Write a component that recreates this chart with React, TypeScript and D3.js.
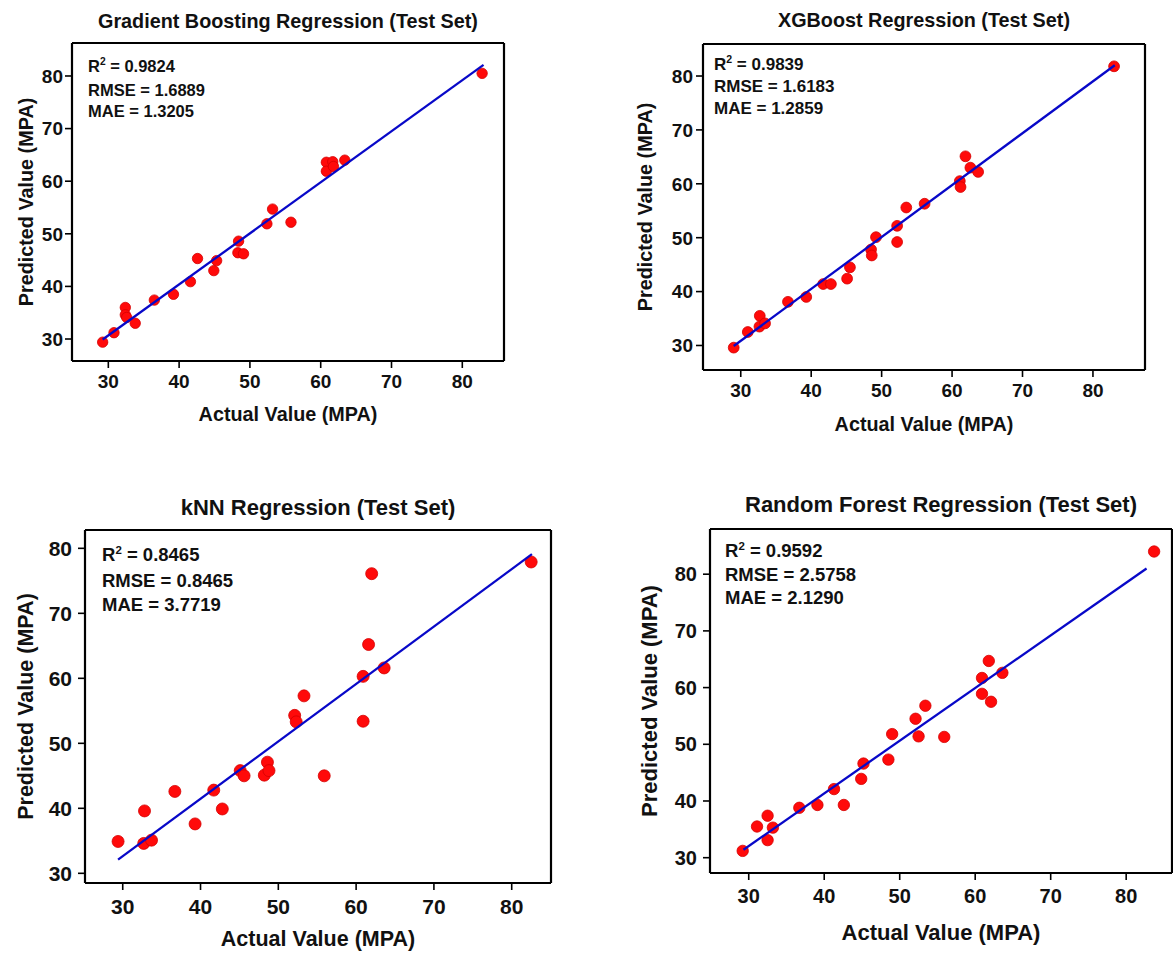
import React from "react";
import * as d3 from "d3";

// ---- data ----
const tickValues = [30, 40, 50, 60, 70, 80];

const gbActual = [29.2, 30.8, 32.4, 32.4, 32.6, 33.8, 36.5, 39.2, 41.6, 42.6, 44.9, 45.3, 48.4, 48.3, 49.1, 52.4, 53.2, 55.8, 60.8, 61.7, 60.8, 61.8, 63.4, 82.8];
const gbPredicted = [29.4, 31.2, 36.0, 34.6, 34.1, 33.0, 37.4, 38.5, 40.9, 45.3, 43.0, 44.9, 48.6, 46.4, 46.2, 51.9, 54.7, 52.2, 63.6, 63.7, 61.9, 62.8, 64.0, 80.5];
const gbFitX = [29.2, 83.0];
const gbFitY = [29.9, 82.1];

const xgbActual = [29.0, 31.0, 32.7, 32.65, 33.45, 36.7, 39.3, 41.7, 42.8, 45.1, 45.5, 48.5, 48.6, 49.2, 52.2, 52.2, 53.5, 56.1, 61.1, 61.2, 61.9, 62.6, 63.7, 83.0];
const xgbPredicted = [29.6, 32.5, 35.5, 33.5, 34.1, 38.1, 39.0, 41.4, 41.4, 42.4, 44.5, 47.8, 46.7, 50.1, 52.2, 49.2, 55.6, 56.3, 60.5, 59.4, 65.1, 63.0, 62.2, 81.8];
const xgbFitX = [29.0, 83.1];
const xgbFitY = [29.9, 82.0];

const knnActual = [29.4, 32.8, 32.7, 33.7, 36.7, 39.3, 41.7, 42.8, 45.1, 45.6, 48.2, 48.6, 48.8, 52.1, 52.3, 53.3, 55.9, 60.9, 60.9, 61.6, 62.0, 63.6, 82.5];
const knnPredicted = [34.9, 39.6, 34.6, 35.1, 42.6, 37.6, 42.8, 39.9, 45.8, 45.0, 45.1, 47.1, 45.8, 54.3, 53.3, 57.3, 45.0, 60.3, 53.4, 65.2, 76.1, 61.6, 77.9];
const knnFitX = [29.4, 82.6];
const knnFitY = [32.1, 79.1];

const rfActual = [29.2, 31.1, 32.5, 32.5, 33.2, 36.7, 39.1, 41.3, 42.6, 44.9, 45.2, 48.5, 49.0, 52.1, 52.5, 53.4, 55.9, 60.9, 60.9, 61.8, 62.1, 63.6, 83.7];
const rfPredicted = [31.2, 35.5, 37.4, 33.1, 35.3, 38.8, 39.3, 42.1, 39.3, 43.9, 46.6, 47.3, 51.8, 54.5, 51.4, 56.8, 51.3, 61.7, 58.9, 64.7, 57.5, 62.6, 84.0];
const rfFitX = [29.3, 82.7];
const rfFitY = [31.4, 81.0];

const titles = [
  "Gradient Boosting Regression (Test Set)",
  "XGBoost Regression (Test Set)",
  "kNN Regression (Test Set)",
  "Random Forest Regression (Test Set)",
];
const r2Values = ["0.9824", "0.9839", "0.8465", "0.9592"];
const rmseValues = ["1.6889", "1.6183", "0.8465", "2.5758"];
const maeValues = ["1.3205", "1.2859", "3.7719", "2.1290"];
const xLabel = "Actual Value (MPA)";
const yLabel = "Predicted Value (MPA)";

// ---- layout (styles / positions) ----
type Layout = {
  left: number; right: number; top: number; bottom: number;
  xDomain: [number, number]; yDomain: [number, number];
  titleSize: number; labelSize: number; tickSize: number; annSize: number;
  titleGap: number; xTickGap: number; yTickGap: number; tickLen: number;
  xLabelY: number; yLabelX: number; annX: number; annY: number[];
  r: number;
};

const layouts: Layout[] = [
  { left: 72, right: 504, top: 43, bottom: 361, xDomain: [24.87, 85.89], yDomain: [25.82, 86.27],
    titleSize: 19.8, labelSize: 19.8, tickSize: 19, annSize: 16.5, titleGap: 15, xTickGap: 27, yTickGap: 9, tickLen: 7,
    xLabelY: 421, yLabelX: 33, annX: 88, annY: [72, 96, 117], r: 5.2 },
  { left: 703, right: 1145, top: 44, bottom: 370, xDomain: [24.64, 87.39], yDomain: [25.45, 85.94],
    titleSize: 19.8, labelSize: 19.8, tickSize: 19, annSize: 17, titleGap: 17, xTickGap: 27, yTickGap: 10, tickLen: 7,
    xLabelY: 431, yLabelX: 652, annX: 714, annY: [70, 92, 114], r: 5.4 },
  { left: 85, right: 551, top: 530, bottom: 883, xDomain: [25.15, 85.05], yDomain: [28.51, 82.82],
    titleSize: 22, labelSize: 21.5, tickSize: 21, annSize: 18.5, titleGap: 15, xTickGap: 31, yTickGap: 13, tickLen: 7,
    xLabelY: 946, yLabelX: 33, annX: 102, annY: [561, 587, 611], r: 6 },
  { left: 710, right: 1172, top: 529, bottom: 873, xDomain: [24.87, 86.07], yDomain: [27.3, 87.97],
    titleSize: 22, labelSize: 22, tickSize: 20, annSize: 18.5, titleGap: 17, xTickGap: 30, yTickGap: 13, tickLen: 7,
    xLabelY: 940, yLabelX: 657, annX: 725, annY: [557, 581, 604], r: 5.7 },
];

const panels = [
  { actual: gbActual, predicted: gbPredicted, fitX: gbFitX, fitY: gbFitY },
  { actual: xgbActual, predicted: xgbPredicted, fitX: xgbFitX, fitY: xgbFitY },
  { actual: knnActual, predicted: knnPredicted, fitX: knnFitX, fitY: knnFitY },
  { actual: rfActual, predicted: rfPredicted, fitX: rfFitX, fitY: rfFitY },
];

const FONT = "'Liberation Sans', Arial, Helvetica, sans-serif";

function Panel({ idx }: { idx: number }) {
  const L = layouts[idx];
  const P = panels[idx];
  const x = d3.scaleLinear().domain(L.xDomain).range([L.left, L.right]);
  const y = d3.scaleLinear().domain(L.yDomain).range([L.bottom, L.top]);
  const line = d3.line<number>()
    .x((_, i) => x(P.fitX[i]))
    .y((_, i) => y(P.fitY[i]));
  const cx = (L.left + L.right) / 2;
  const cy = (L.top + L.bottom) / 2;
  return (
    <g fontFamily={FONT} fontWeight="bold" fill="#111">
      <text x={cx} y={L.top - L.titleGap} textAnchor="middle" fontSize={L.titleSize}>{titles[idx]}</text>
      <line x1={L.left} x2={L.right} y1={L.top} y2={L.top} stroke="#000" strokeWidth={2.2} />
      <line x1={L.left} x2={L.right} y1={L.bottom} y2={L.bottom} stroke="#000" strokeWidth={2.2} />
      <line x1={L.left} x2={L.left} y1={L.top} y2={L.bottom} stroke="#000" strokeWidth={2.2} />
      <line x1={L.right} x2={L.right} y1={L.top} y2={L.bottom} stroke="#000" strokeWidth={2.2} />
      {tickValues.map((t) => (
        <g key={"x" + t}>
          <line x1={x(t)} x2={x(t)} y1={L.bottom} y2={L.bottom + L.tickLen} stroke="#000" strokeWidth={1.6} />
          <text x={x(t)} y={L.bottom + L.xTickGap} textAnchor="middle" fontSize={L.tickSize}>{t}</text>
        </g>
      ))}
      {tickValues.map((t) => (
        <g key={"y" + t}>
          <line x1={L.left - L.tickLen} x2={L.left} y1={y(t)} y2={y(t)} stroke="#000" strokeWidth={1.6} />
          <text x={L.left - L.yTickGap} y={y(t)} dy="0.36em" textAnchor="end" fontSize={L.tickSize}>{t}</text>
        </g>
      ))}
      <text x={cx} y={L.xLabelY} textAnchor="middle" fontSize={L.labelSize}>{xLabel}</text>
      <text transform={`translate(${L.yLabelX},${cy}) rotate(-90)`} textAnchor="middle" fontSize={L.labelSize}>{yLabel}</text>
      {P.actual.map((a, i) => (
        <circle key={i} cx={x(a)} cy={y(P.predicted[i])} r={L.r} fill="#ff0a0a" stroke="#d40000" strokeWidth={0.8} />
      ))}
      <path d={line(P.fitX) || ""} fill="none" stroke="#0808c8" strokeWidth={2.3} />
      <text x={L.annX} y={L.annY[0]} fontSize={L.annSize}>
        <tspan>R</tspan>
        <tspan dy={-L.annSize * 0.4} fontSize={L.annSize * 0.62}>2</tspan>
        <tspan dy={L.annSize * 0.4}> = {r2Values[idx]}</tspan>
      </text>
      <text x={L.annX} y={L.annY[1]} fontSize={L.annSize}>RMSE = {rmseValues[idx]}</text>
      <text x={L.annX} y={L.annY[2]} fontSize={L.annSize}>MAE = {maeValues[idx]}</text>
    </g>
  );
}

export default function App() {
  return (
    <svg
      width={1173}
      height={953}
      viewBox="0 0 1173 953"
      style={{ position: "absolute", left: 0, top: 0, background: "#fff", display: "block" }}
    >
      <rect x={0} y={0} width={1173} height={953} fill="#fff" />
      {layouts.map((_, i) => (
        <Panel key={i} idx={i} />
      ))}
    </svg>
  );
}
